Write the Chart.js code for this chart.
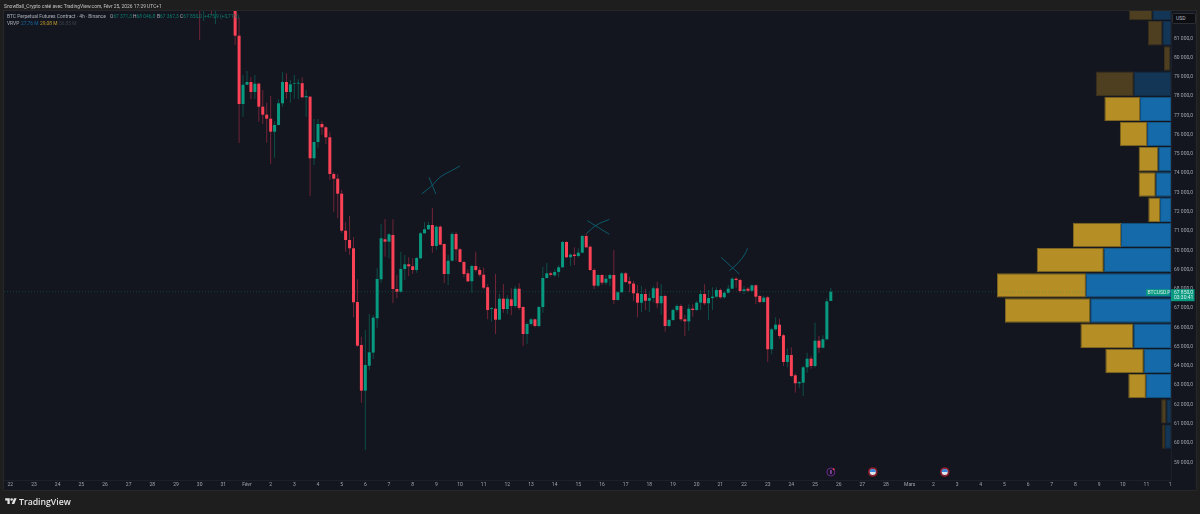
<!DOCTYPE html>
<html lang="fr">
<head>
<meta charset="utf-8">
<title>BTCUSD.P 4h</title>
<style>
  html, body { margin: 0; padding: 0; width: 1200px; height: 514px; overflow: hidden; background: #1e1e1e; }
  #panel { position: absolute; left: 3px; top: 10px; width: 1192px; height: 479px; background: #13161f; border: 1px solid #272728; }
  canvas { position: absolute; left: 0; top: 0; }
  .t { position: absolute; white-space: nowrap; font-family: Roboto, sans-serif; font-size: 4.9px; line-height: 7px; color: #aeb2bb; }
  .up { color: #0a7f6e; } .blue { color: #1669a8; } .gold { color: #c49a2a; } .dim { color: #3c404a; }
  #brand { position: absolute; left: 19px; top: 495px; font-family: "Open Sans", Roboto, sans-serif; font-size: 8.7px; font-weight: 600; line-height: 14px; color: #e4e4e4; }
  #logo { position: absolute; left: 5px; top: 497px; width: 12px; height: 9px; fill: #e4e4e4; }
  #usd { position: absolute; left: 1172px; top: 13px; width: 22px; height: 9px; border-radius: 1.5px; background: #0d0e12; border: 0.5px solid #2c2e33; font: 5px/9px Roboto, sans-serif; color: #b8bbc2; text-indent: 3px; }
</style>
<script src="https://cdn.jsdelivr.net/npm/chart.js@4"></script>
</head>
<body>
<div id="panel"></div>
<canvas id="c" width="1200" height="514"></canvas>

<div class="t" style="left:4px;top:2.5px;color:#c3c4c6">SnowBall_Crypto créé avec TradingView.com, Févr 25, 2026 17:29 UTC+1</div>
<div class="t" style="left:7px;top:13px">BTC Perpetual Futures Contract · 4h · Binance</div>
<div class="t" style="left:110px;top:13px">O<span class="up">67 371,3</span></div>
<div class="t" style="left:133px;top:13px">H<span class="up">68 046,8</span></div>
<div class="t" style="left:157px;top:13px">B<span class="up">67 367,3</span></div>
<div class="t" style="left:180px;top:13px">C<span class="up">67 850,0</span></div>
<div class="t up" style="left:204px;top:13px">+475,9 (+0,71%)</div>
<div class="t" style="left:7px;top:20px">VRVP</div>
<div class="t blue" style="left:21px;top:20px">27,76 M</div>
<div class="t gold" style="left:40px;top:20px">29,08 M</div>
<div class="t dim" style="left:59px;top:20px">56,85 M</div>
<div id="usd">USD</div>

<svg id="logo" viewBox="0 0 36 28"><path d="M14 22H7V11H0V4h14v18zM28 22h-8l7.5-18h8L28 22z"/><circle cx="20" cy="8" r="4"/></svg>
<div id="brand">TradingView</div>

<script>
// 4h candles, counted from 22 Jan 00:00 at six bars per day
const firstBar = 48;
const opens = [
  84000,83000,83500,83800,83000,83500,83200,83400,83100,83000,
  81135,77590,78592,78732,78213,78644,77450,77035,76828,76153,
  76501,77627,78732,78213,78650,78650,78670,77938,77970,74773,
  75619,76553,76381,75862,73958,73714,72936,71016,70533,70103,
  67316,65083,62714,64010,64690,66470,68494,70570,70445,70793,
  67991,67850,69029,69273,69170,68977,69584,70881,71089,71312,
  70222,71224,70326,68769,69459,70845,70051,69392,68805,68390,
  69184,68977,68730,68080,66950,66970,66398,67488,66953,67455,
  67109,68006,67057,65656,66175,66418,66071,67057,68562,68805,
  68700,68875,69117,70430,69636,69775,69700,69875,70740,70185,
  68977,68162,68717,68318,68525,68717,67420,67820,68805,68390,
  68270,67767,67280,67731,67380,67520,68027,67249,67627,66071,
  66382,66901,67109,66418,66310,66969,66901,67280,67731,67249,
  67520,67590,67940,67560,67799,68006,68525,68458,67887,68006,
  67900,68183,67627,67316,67560,64862,65900,66139,65590,64203,
  64566,63510,63097,63130,63928,64374,63995,65308,64945,65381,
  67371.3
];
const highs = [
  84500,84000,84200,84300,84000,84100,83900,83800,83500,83500,
  82089,79095,79303,78976,79095,78700,78317,77658,78021,76700,
  77834,79251,79183,78836,79095,78872,78976,78317,78000,76796,
  76812,76708,76450,76122,74062,73958,73128,71452,71779,70689,
  68494,65516,65863,66694,66642,69065,71364,71623,70880,71607,
  68717,69926,69755,69636,69584,69650,70950,71452,71483,72210,
  71300,71300,70350,69755,70964,70964,70100,69459,69000,69250,
  69926,69120,69100,68240,67050,68769,67731,68250,67680,68027,
  68150,68286,67100,66250,66480,66460,67120,69148,69356,68900,
  69013,69236,70480,70480,69830,70155,70100,70800,70881,70250,
  69050,68760,68760,68717,68800,70014,67870,68870,68870,68629,
  68400,68198,68162,68000,67800,68150,68369,68250,67700,66450,
  66980,67200,67200,66642,67200,67200,67380,67940,68235,67940,
  68080,68080,68030,67850,68198,68600,68600,68530,68150,68100,
  68230,68230,67670,67640,67640,65980,66522,66450,65670,64914,
  64966,63600,63200,64000,64685,64500,66241,65552,65590,67508,
  68046.8
];
const lows = [
  80911,81900,82700,82209,81742,82800,82700,82600,82600,80652,
  75567,76931,78576,77834,77850,76672,76553,75582,74477,74804,
  76490,77450,77865,77658,77865,77850,77886,76931,72817,74425,
  75323,75982,75515,73647,72002,71659,70912,69926,69755,66522,
  64997,62090,59636,63788,64359,65982,68318,69667,69584,67249,
  67508,67800,68458,68665,68769,68836,69530,70860,71050,69874,
  70014,70260,68286,68198,69420,69459,69370,68598,68340,67799,
  68890,68630,67975,66418,66294,65656,66370,66761,66694,66626,
  67000,66901,65033,65137,66100,66000,66000,66761,68530,68640,
  68620,68598,69080,69580,69184,69236,69630,69850,70103,68930,
  67991,68080,68198,68198,68146,67197,67380,67780,68300,67820,
  67368,66522,66798,66901,66798,67300,66990,66657,65775,66000,
  66330,66800,66320,65552,65827,66553,66850,66900,67160,66382,
  66900,67530,67480,67490,67750,67980,68050,67800,67731,67830,
  67850,67213,67249,67260,64203,64603,65830,65412,63995,63928,
  63420,62609,62838,62439,63648,63856,63900,64685,64900,65330,
  67367.3
];
const closes = [
  83000,83500,83800,83000,83500,83200,83400,83100,83000,81135,
  77590,78592,78732,78213,78644,77450,77035,76828,76153,76501,
  77627,78732,78213,78613,78680,78690,77938,78000,74773,75619,
  76553,76381,75862,73958,73714,72936,71016,70533,70103,67301,
  65049,62714,64047,64706,66502,68510,70622,70445,70829,67991,
  67850,69029,69273,69170,68977,69599,70881,71089,71312,70222,
  71224,70290,68769,69459,70845,70051,69392,68769,68390,69184,
  68977,68730,68058,66901,67000,66398,67488,66953,67488,67109,
  68006,67005,65656,66175,66418,66071,67057,68562,68805,68730,
  68875,69117,70430,69636,69775,69700,69875,70740,70155,68977,
  68162,68717,68318,68525,68717,67420,67820,68805,68354,68270,
  67767,67280,67731,67380,67520,68027,67249,67627,66071,66382,
  66901,67109,66418,66310,66969,66901,67280,67731,67249,67520,
  67590,67940,67560,67799,68006,68525,68458,67887,67975,67900,
  68183,67591,67316,67540,64862,65900,66139,65552,64203,64566,
  63476,63097,63165,63928,64374,63995,65308,64945,65381,67352,
  67850
];

// Visible-range volume profile: row mid price, then buy and sell volume in millions
const profilePrices = [82567,81260,79952,78644,77336,76028,74720,73412,72104,70796,69488,68180,66872,65564,64256,62948,61640,60332];
const profileBuy  = [0.95,0.44,0.03,1.90,1.58,1.22,0.65,0.78,0.56,2.55,3.43,4.34,4.12,1.92,1.39,1.28,0.24,0.31];
const profileSell = [1.19,0.74,0.33,1.94,1.82,1.39,1.00,0.87,0.60,2.45,3.42,4.54,4.35,2.70,1.96,0.90,0.26,0.14];
const valueArea   = [0,0,0,0,1,1,1,1,1,1,1,1,1,1,1,1,0,0];

// Axis labels: one per calendar day starting at 22 Jan
const dayLabels = ['22','23','24','25','26','27','28','29','30','31','Févr',
  '2','3','4','5','6','7','8','9','10','11','12','13','14','15','16','17','18','19','20','21','22','23','24','25','26','27','28','Mars',
  '2','3','4','5','6','7','8','9','10','11','1'];
const priceTicks = [59000,60000,61000,62000,63000,64000,65000,66000,67000,68000,69000,70000,71000,72000,73000,74000,75000,76000,77000,78000,79000,80000,81000];

// Last traded price, its countdown, and the calendar events along the time axis
const lastPrice = 67850;
const countdown = '03:30:41';
const symbolName = 'BTCUSD.P';
const eventDays = [{ day: 34.67, kind: 'earnings' }, { day: 36.44, kind: 'macro' }, { day: 39.48, kind: 'macro' }];

// Hand-drawn crosses above the three lower highs, as [day, price] pairs
const crossStrokes = [
  [[17.69,73787],[17.98,72920]],
  [[17.38,72920],[17.80,73335],[18.15,73787],[18.69,74166],[19.0,74373]],
  [[24.38,71535],[25.31,70829]],
  [[24.35,70881],[24.77,71312],[25.31,71608]],
  [[30.03,69636],[30.80,68769]],
  [[30.38,68940],[30.76,69355],[31.04,69807],[31.15,70103]]
];

const dayBounds = { min: -0.266, max: 49.04 };
const priceBounds = { min: 58079, max: 82416 };

const RED = '#fb4155', GREEN = '#089981', RED_WICK = 'rgba(242,54,90,0.42)', GREEN_WICK = 'rgba(8,153,129,0.42)';
const barDay = i => (firstBar + i) / 6;
const isUp = i => closes[i] >= opens[i];

function formatPrice(v) {
  const fixed = v.toFixed(1).replace('.', ',');
  return fixed.replace(/^(\d+)(\d{3},)/, '$1 $2');
}

const priceTag = {
  id: 'priceTag',
  afterDraw(chart) {
    const { ctx } = chart;
    const y = chart.scales.y.getPixelForValue(lastPrice);
    const right = chart.scales.y.left;
    ctx.save();
    ctx.fillStyle = GREEN;
    ctx.fillRect(right - 25, y - 2.5, 23.5, 6.5);
    ctx.fillRect(right, y - 2.5, 23.5, 12);
    ctx.fillStyle = '#d8efe9';
    ctx.font = '5px Roboto, sans-serif';
    ctx.textBaseline = 'middle';
    ctx.textAlign = 'left';
    ctx.fillText(symbolName, right - 23.5, y + 0.8);
    ctx.fillText(formatPrice(lastPrice), right + 3, y + 0.8);
    ctx.fillText(countdown, right + 3, y + 6);
    ctx.restore();
  }
};

const eventMarks = {
  id: 'eventMarks',
  afterDraw(chart) {
    const { ctx, chartArea } = chart;
    const y = chartArea.bottom - 8;
    eventDays.forEach(ev => {
      const x = chart.scales.x.getPixelForValue(ev.day);
      ctx.save();
      if (ev.kind === 'earnings') {
        ctx.strokeStyle = '#6a2a8c';
        ctx.lineWidth = 1;
        ctx.beginPath(); ctx.arc(x, y, 4, 0, Math.PI * 2); ctx.stroke();
        ctx.fillStyle = '#a04fc4';
        ctx.fillRect(x - 0.7, y - 2, 1.4, 4);
        ctx.fillStyle = '#e53945';
        ctx.beginPath(); ctx.arc(x + 2.8, y - 2.8, 1, 0, Math.PI * 2); ctx.fill();
      } else {
        ctx.fillStyle = '#8a1f2c';
        ctx.beginPath(); ctx.arc(x, y, 4.8, 0, Math.PI * 2); ctx.fill();
        ctx.fillStyle = '#dfe6f0';
        ctx.beginPath(); ctx.arc(x, y, 3, 0, Math.PI * 2); ctx.fill();
        ctx.fillStyle = '#3a86d8';
        ctx.beginPath(); ctx.arc(x, y, 3, Math.PI, Math.PI * 2); ctx.fill();
      }
      ctx.restore();
    });
  }
};

const opts = { pointRadius: 0, pointHoverRadius: 0 };
const rowBar = { type: 'bar', indexAxis: 'y', xAxisID: 'xProfile', yAxisID: 'yProfile', order: 6, grouped: false,
  maxBarThickness: 24.4, categoryPercentage: 1, barPercentage: 1, borderWidth: 1, borderSkipped: false, inflateAmount: 0 };
const datasets = [
  {
    ...rowBar, label: 'Buy volume',
    data: profilePrices.map((p, i) => ({ y: p, x: [0, profileBuy[i]] })),
    backgroundColor: valueArea.map(v => v ? '#156baa' : '#143656'),
    borderColor: valueArea.map(v => v ? '#125586' : '#122c47')
  },
  {
    ...rowBar, label: 'Sell volume',
    data: profilePrices.map((p, i) => ({ y: p, x: [profileBuy[i], profileBuy[i] + profileSell[i]] })),
    backgroundColor: valueArea.map(v => v ? '#b58e25' : '#4e3f21'),
    borderColor: valueArea.map(v => v ? '#7d6520' : '#3c311c')
  },
  {
    type: 'bar', label: 'Wicks', grouped: false, order: 4, maxBarThickness: 1, categoryPercentage: 1, barPercentage: 1,
    inflateAmount: 0,
    data: highs.map((h, i) => ({ x: barDay(i), y: [lows[i], h] })),
    backgroundColor: highs.map((_, i) => isUp(i) ? GREEN_WICK : RED_WICK)
  },
  {
    type: 'bar', label: 'Bodies', grouped: false, order: 3, maxBarThickness: 3, categoryPercentage: 1, barPercentage: 1,
    inflateAmount: 0,
    data: opens.map((o, i) => ({ x: barDay(i), y: [o, closes[i]] })),
    backgroundColor: opens.map((_, i) => isUp(i) ? GREEN : RED)
  },
  {
    type: 'line', label: 'Last price', order: 2, borderColor: 'rgba(8,153,129,0.35)', borderWidth: 1, borderDash: [1, 2], ...opts,
    data: [{ x: dayBounds.min, y: lastPrice }, { x: dayBounds.max, y: lastPrice }]
  },
  ...crossStrokes.map(stroke => ({
    type: 'line', label: 'Cross', order: 1, borderColor: '#0e5a6c', borderWidth: 1, tension: 0.35, ...opts,
    data: stroke.map(([x, y]) => ({ x, y }))
  }))
];

new Chart(document.getElementById('c'), {
  type: 'bar',
  data: { datasets },
  plugins: [priceTag, eventMarks],
  options: {
    responsive: false,
    animation: false,
    events: [],
    layout: { padding: { left: 4, top: 11, right: 4, bottom: 24 } },
    plugins: { legend: { display: false }, tooltip: { enabled: false } },
    scales: {
      x: {
        type: 'linear', position: 'bottom', offset: false, ...dayBounds,
        grid: { display: false, drawTicks: false, offset: false },
        border: { display: true, color: '#1d2029' },
        afterBuildTicks: s => { s.ticks = dayLabels.map((_, i) => ({ value: i })); },
        afterFit: s => { s.height = 10; },
        ticks: {
          autoSkip: false, maxRotation: 0, padding: 2, color: '#a0a4ad',
          font: { family: 'Roboto, sans-serif', size: 5 },
          callback: (v, i) => dayLabels[i]
        }
      },
      y: {
        type: 'linear', position: 'right', ...priceBounds,
        grid: { display: false, drawTicks: false },
        border: { display: true, color: '#1d2029' },
        afterBuildTicks: s => { s.ticks = priceTicks.map(value => ({ value })); },
        afterFit: s => { s.width = 25; },
        ticks: {
          autoSkip: false, padding: 3, color: '#a0a4ad',
          font: { family: 'Roboto, sans-serif', size: 5 },
          callback: v => formatPrice(v)
        }
      },
      xProfile: { type: 'linear', display: false, reverse: true, offset: false, min: 0, max: 59.54, grid: { display: false } },
      yProfile: { type: 'linear', display: false, offset: false, ...priceBounds, grid: { display: false } }
    }
  }
});
</script>
</body>
</html>
